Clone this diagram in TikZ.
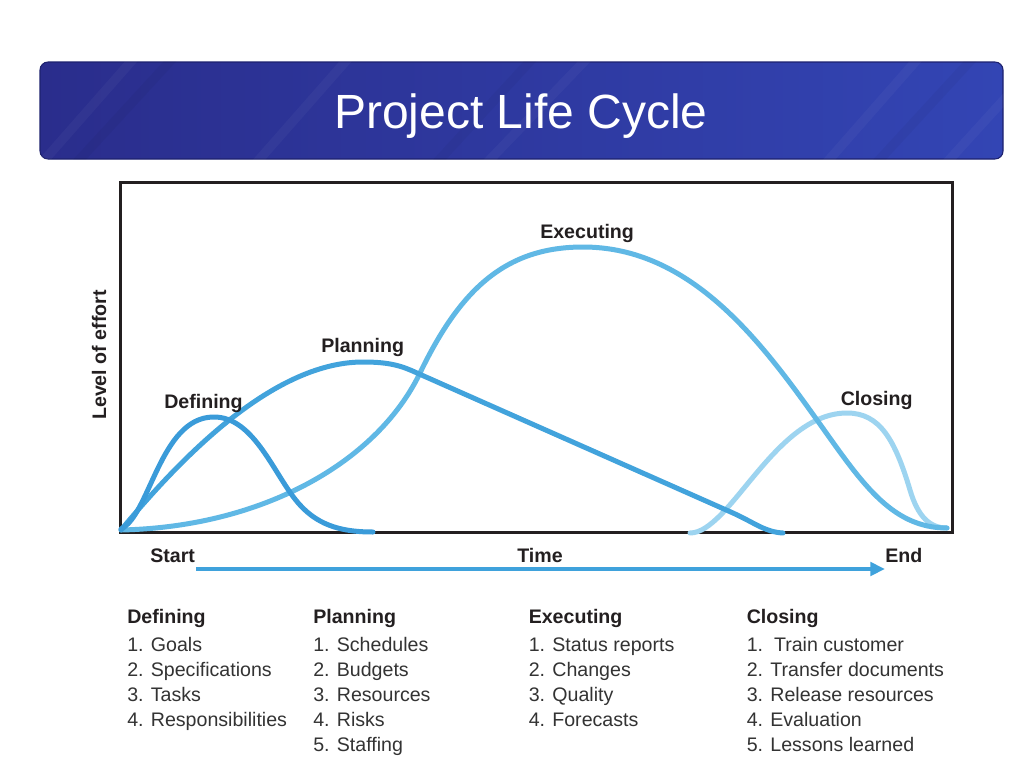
\documentclass[tikz,border=0pt]{standalone}
\usepackage{fontspec}
\setmainfont{Liberation Sans}
\usetikzlibrary{arrows.meta}

\definecolor{bannerL}{HTML}{2A2D8C}
\definecolor{bannerM}{HTML}{2C3198}
\definecolor{bannerR}{HTML}{3345B4}
\definecolor{bannerEdge}{HTML}{1D216E}
\definecolor{frameInk}{HTML}{231F20}
\definecolor{textInk}{HTML}{231F20}
\definecolor{listInk}{HTML}{333333}
\definecolor{defC}{HTML}{3A9BD9}
\definecolor{planC}{HTML}{42A3DC}
\definecolor{execC}{HTML}{60B8E5}
\definecolor{closeC}{HTML}{9DD4F0}
\definecolor{timeC}{HTML}{3FA2DC}

\begin{document}
\begin{tikzpicture}[x=0.75pt,y=-0.75pt,
  banner/.style={rounded corners=6pt, minimum width=722.25pt, minimum height=72.75pt,
    left color=bannerL, middle color=bannerM, right color=bannerR,
    draw=bannerEdge, line width=0.8pt, inner sep=0pt},
  titletext/.style={font=\fontsize{36}{40}\selectfont, text=white, inner sep=0pt, anchor=base},
  streak/.style={line width=7pt, opacity=0.035},
  chartframe/.style={draw=frameInk, line width=2.6pt, minimum width=624pt, minimum height=262.5pt,
    inner sep=0pt, anchor=north west},
  curve/.style={line width=3.75pt, line cap=round},
  lbl/.style={font=\fontsize{14.7}{17}\selectfont\bfseries, text=textInk, inner sep=0pt, anchor=base west},
  head/.style={font=\fontsize{14.7}{17}\selectfont\bfseries, text=textInk, inner sep=0pt, anchor=base west},
  items/.style={font=\fontsize{14.7}{18.75}\selectfont, text=listInk, inner sep=0pt, anchor=base west},
  timeline/.style={draw=timeC, line width=3pt, -{Triangle[length=11pt, width=10pt]}}
]
\useasboundingbox (0,0) rectangle (1028,760);
\fill[white] (0,0) rectangle (1028,760);

% title banner with faint diagonal texture
\node[banner] (banner) at (521.5,110.5) {};
\begin{scope}
  \clip[rounded corners=6pt] (banner.south west) rectangle (banner.north east);
  \draw[streak, white] (40,165) -- (150,40);
  \draw[streak, black] (70,170) -- (185,45);
  \draw[streak, white] (250,170) -- (360,45);
  \draw[streak, black] (430,170) -- (545,45);
  \draw[streak, white] (480,170) -- (600,45);
  \draw[streak, white] (820,170) -- (930,45);
  \draw[streak, black] (870,170) -- (985,45);
  \draw[streak, white] (940,170) -- (1040,60);
\end{scope}
\node[titletext] (title) at (521,128) {Project Life Cycle};

% chart frame
\node[chartframe] (frame) at (119,181) {};

% axis label
\node[font=\fontsize{14.7}{17}\selectfont\bfseries, text=textInk, rotate=90, inner sep=0pt]
  (effort) at (99,355) {Level of effort};

% phase curves
\draw[curve, closeC] (690,533) .. controls (730,533) and (775,413) .. (847,413)
  .. controls (880,413) and (895,440) .. (910,490)
  .. controls (918,517) and (930,528) .. (947,528);
\draw[curve, execC] (121,530) .. controls (260,527) and (376,464) .. (420,373)
  .. controls (460,290) and (505,247) .. (583,247)
  .. controls (690,247) and (760,340) .. (817,420)
  .. controls (860,480) and (890,528) .. (947,528);
\draw[curve, planC] (121,530) .. controls (175,465) and (270,362) .. (363,362)
  .. controls (390,362) and (402,366) .. (417,373) -- (733,513)
  .. controls (755,523) and (765,532) .. (783,533);
\draw[curve, defC] (121,529) .. controls (150,515) and (160,418) .. (213,417)
  .. controls (255,416) and (275,478) .. (300,505)
  .. controls (320,527) and (345,532) .. (373,532);

% curve labels
\node[lbl] (lDef) at (164,408) {Defining};
\node[lbl] (lPlan) at (321,352.5) {Planning};
\node[lbl] (lExec) at (540,238.5) {Executing};
\node[lbl] (lClose) at (840.5,405) {Closing};

% time axis
\node[lbl] (start) at (150,562) {Start};
\node[lbl] (time) at (517,562) {Time};
\node[lbl] (end) at (885,562) {End};
\coordinate (tA) at (196,569);
\coordinate (tB) at (885,569);
\draw[timeline] (tA) -- (tB);

% phase task lists
\node[head] (hDef) at (127,623) {Defining};
\node[items] (iDef) at (127,651.7) {\begin{tabular}[t]{@{}l@{}}1. Goals\\2. Specifications\\3. Tasks\\4. Responsibilities\end{tabular}};

\node[head] (hPlan) at (313,623) {Planning};
\node[items] (iPlan) at (313,651.7) {\begin{tabular}[t]{@{}l@{}}1. Schedules\\2. Budgets\\3. Resources\\4. Risks\\5. Staffing\end{tabular}};

\node[head] (hExec) at (528.5,623) {Executing};
\node[items] (iExec) at (528.5,651.7) {\begin{tabular}[t]{@{}l@{}}1. Status reports\\2. Changes\\3. Quality\\4. Forecasts\end{tabular}};

\node[head] (hClose) at (746.5,623) {Closing};
\node[items] (iClose) at (746.5,651.7) {\begin{tabular}[t]{@{}l@{}}1.\ \ Train customer\\2. Transfer documents\\3. Release resources\\4. Evaluation\\5. Lessons learned\end{tabular}};
\end{tikzpicture}
\end{document}
